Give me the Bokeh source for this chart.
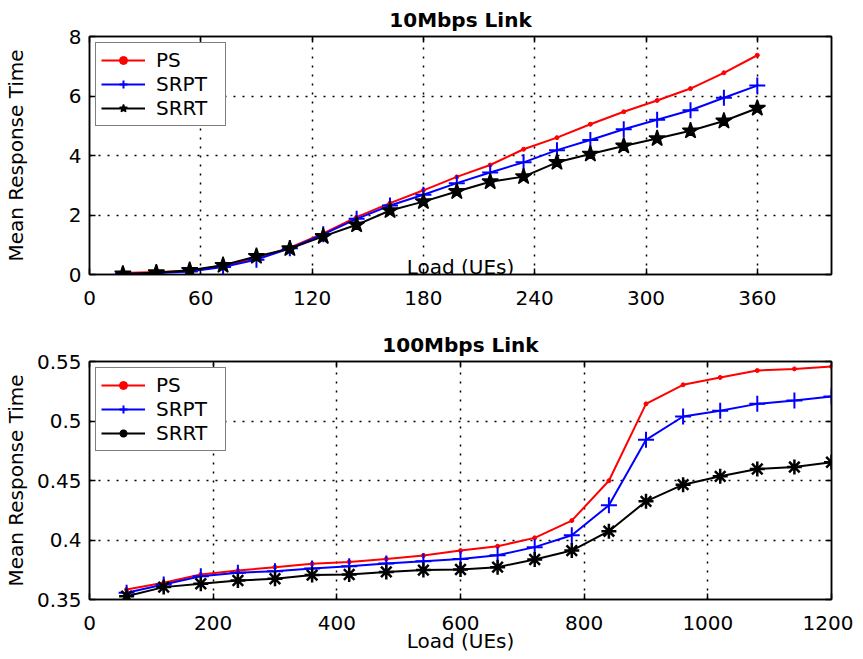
from bokeh.plotting import figure
from bokeh.models import FixedTicker, LinearAxis, Label, Range1d
from bokeh.layouts import column
from bokeh.embed import file_html
from bokeh.resources import INLINE

# ---------------- data: 10Mbps link ----------------
load_10 = [18, 36, 54, 72, 90, 108, 126, 144, 162, 180, 198, 216, 234, 252, 270, 288, 306, 324, 342, 360]
ps_10 = [0.05, 0.08, 0.12, 0.30, 0.55, 0.90, 1.38, 1.93, 2.40, 2.83, 3.28, 3.68, 4.21, 4.60, 5.05, 5.47, 5.85, 6.25, 6.78, 7.37]
srpt_10 = [0.02, 0.05, 0.10, 0.25, 0.50, 0.88, 1.35, 1.87, 2.32, 2.68, 3.07, 3.43, 3.77, 4.18, 4.52, 4.88, 5.20, 5.52, 5.94, 6.35]
srrt_10 = [0.02, 0.06, 0.14, 0.31, 0.61, 0.87, 1.28, 1.67, 2.15, 2.45, 2.79, 3.12, 3.29, 3.77, 4.05, 4.32, 4.57, 4.83, 5.16, 5.59]
xticks_10 = [0, 60, 120, 180, 240, 300, 360]
yticks_10 = [0, 2, 4, 6, 8]

# ---------------- data: 100Mbps link ----------------
load_100 = [60, 120, 180, 240, 300, 360, 420, 480, 540, 600, 660, 720, 780, 840, 900, 960, 1020, 1080, 1140, 1200]
ps_100 = [0.3584, 0.3640, 0.3710, 0.3743, 0.3772, 0.3800, 0.3816, 0.3841, 0.3869, 0.3911, 0.3948, 0.4018, 0.4163, 0.4498, 0.5144, 0.5304, 0.5366, 0.5424, 0.5438, 0.5458]
srpt_100 = [0.3556, 0.3626, 0.3696, 0.3724, 0.3738, 0.3760, 0.3780, 0.3802, 0.3822, 0.3841, 0.3872, 0.3940, 0.4040, 0.4292, 0.4842, 0.5038, 0.5086, 0.5144, 0.5173, 0.5206]
srrt_100 = [0.3528, 0.3604, 0.3632, 0.3660, 0.3674, 0.3705, 0.3710, 0.3732, 0.3747, 0.3752, 0.3772, 0.3836, 0.3911, 0.4074, 0.4325, 0.4465, 0.4535, 0.4597, 0.4613, 0.4653]
xticks_100 = [0, 200, 400, 600, 800, 1000, 1200]
yticks_100 = [0.35, 0.4, 0.45, 0.5, 0.55]
ytick_labels_100 = ["0.35", "0.4", "0.45", "0.5", "0.55"]

FONT = "DejaVu Sans"
FS = "20px"


def style(p, xticks, yticks, ylabel_standoff):
    p.outline_line_color = "black"
    p.outline_line_width = 1.5
    p.background_fill_color = "white"
    p.border_fill_color = "white"
    xa, ya = p.below[0], p.left[0]
    for ax in (xa, ya):
        ax.major_tick_in = 6
        ax.major_tick_out = 0
        ax.minor_tick_line_color = None
        ax.axis_line_color = "black"
        ax.axis_line_width = 1.5
        ax.major_tick_line_width = 1.5
        ax.major_label_text_font = FONT
        ax.major_label_text_font_size = FS
        ax.major_label_text_color = "black"
        ax.axis_label_text_font = FONT
        ax.axis_label_text_font_size = FS
        ax.axis_label_text_font_style = "normal"
        ax.axis_label_text_color = "black"
    xa.major_label_standoff = 16
    ya.major_label_standoff = 8
    xa.ticker = FixedTicker(ticks=xticks)
    ya.ticker = FixedTicker(ticks=yticks)
    ya.axis_label = "Mean Response Time"
    ya.axis_label_standoff = ylabel_standoff
    for loc, tk in (("above", xticks), ("right", yticks)):
        ax = LinearAxis(ticker=FixedTicker(ticks=tk), major_label_text_font_size="0px",
                        major_label_standoff=0, major_tick_in=6, major_tick_out=0,
                        minor_tick_line_color=None, axis_line_width=1.5,
                        major_tick_line_width=1.5, axis_line_color="black")
        ax.major_label_text_color = None
        p.add_layout(ax, loc)
    for g in (p.xgrid[0], p.ygrid[0]):
        g.grid_line_color = "black"
        g.grid_line_dash = "2 7"
        g.grid_line_width = 1.5
    p.title.text_font = FONT
    p.title.text_font_size = FS
    p.title.text_font_style = "bold"
    p.title.align = "center"
    p.title.text_color = "black"


def legend_style(p):
    lg = p.legend[0]
    lg.location = "top_left"
    lg.margin = 6
    lg.padding = 5
    lg.spacing = 0
    lg.label_height = 20
    lg.glyph_height = 20
    lg.glyph_width = 44
    lg.label_width = 64
    lg.label_text_font = FONT
    lg.label_text_font_size = FS
    lg.label_text_color = "black"
    lg.border_line_color = "black"
    lg.border_line_width = 1.5
    lg.background_fill_alpha = 1
    lg.label_standoff = 11


# ---------------- top chart ----------------
p1 = figure(frame_width=742, frame_height=238, output_backend="svg", toolbar_location=None,
            x_range=Range1d(0, 400), y_range=Range1d(0, 8), title="10Mbps Link",
            min_border_left=83, min_border_right=22, min_border_top=29, min_border_bottom=40)
style(p1, xticks_10, yticks_10, 38)
p1.line(load_10, ps_10, color="red", line_width=2, legend_label="PS")
p1.scatter(load_10, ps_10, color="red", size=4, marker="circle", legend_label="PS")
p1.line(load_10, srpt_10, color="blue", line_width=2, legend_label="SRPT")
p1.scatter(load_10, srpt_10, line_color="blue", size=16, marker="cross", line_width=2, legend_label="SRPT")
p1.line(load_10, srrt_10, color="black", line_width=2, legend_label="SRRT")
p1.scatter(load_10, srrt_10, line_color="black", fill_color="black", size=17, marker="star", line_width=1.5, legend_label="SRRT")
legend_style(p1)
p1.add_layout(Label(x=171, y=0.25, text="Load (UEs)", text_font=FONT, text_font_size=FS,
                    text_baseline="middle", text_align="left", text_color="black"))

# ---------------- bottom chart ----------------
p2 = figure(frame_width=742, frame_height=238, output_backend="svg", toolbar_location=None,
            x_range=Range1d(0, 1200), y_range=Range1d(0.35, 0.55), title="100Mbps Link",
            min_border_left=83, min_border_right=22, min_border_top=47, min_border_bottom=40)
style(p2, xticks_100, yticks_100, 6)
p2.left[0].major_label_overrides = {v: s for v, s in zip(yticks_100, ytick_labels_100)}
p2.below[0].major_label_standoff = 16
p2.below[0].axis_label = "Load (UEs)"
p2.below[0].axis_label_standoff = -4
p2.line(load_100, ps_100, color="red", line_width=2, legend_label="PS")
p2.scatter(load_100, ps_100, color="red", size=4, marker="circle", legend_label="PS")
p2.line(load_100, srpt_100, color="blue", line_width=2, legend_label="SRPT")
p2.scatter(load_100, srpt_100, line_color="blue", size=16, marker="cross", line_width=2, legend_label="SRPT")
p2.line(load_100, srrt_100, color="black", line_width=2, legend_label="SRRT")
p2.scatter(load_100, srrt_100, line_color="black", size=15, marker="asterisk", line_width=2.5, legend_label="SRRT")
legend_style(p2)

layout = column(p1, p2, spacing=0)
open("out.html", "w").write(file_html(layout, INLINE))
